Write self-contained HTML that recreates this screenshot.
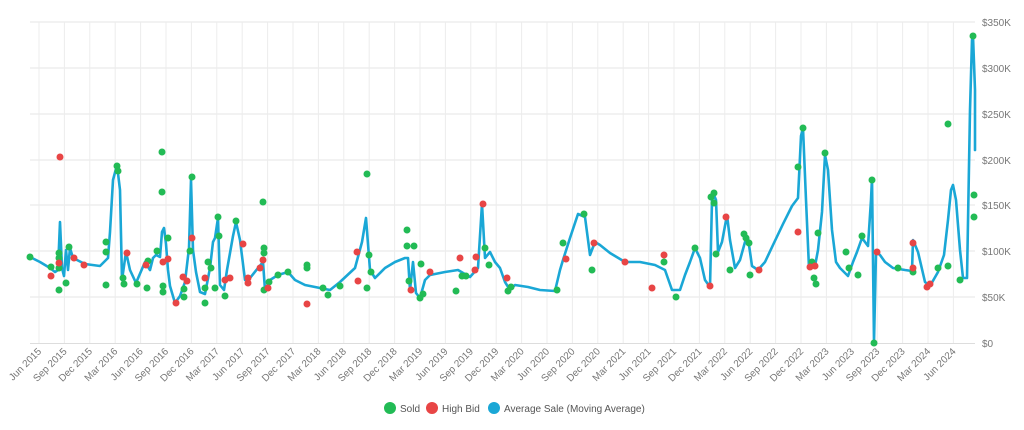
<!DOCTYPE html><html><head><style>body{margin:0;background:#fff;font-family:"Liberation Sans",sans-serif}</style></head><body>
<svg width="1024" height="425" xmlns="http://www.w3.org/2000/svg" font-family="Liberation Sans, sans-serif">
<g stroke="#e6e6e6" stroke-width="1">
<line x1="30" y1="22" x2="975" y2="22"/><line x1="30" y1="68" x2="975" y2="68"/><line x1="30" y1="114" x2="975" y2="114"/><line x1="30" y1="160" x2="975" y2="160"/><line x1="30" y1="205" x2="975" y2="205"/><line x1="30" y1="251" x2="975" y2="251"/><line x1="30" y1="297" x2="975" y2="297"/>
</g>
<g id="vg" stroke="#ececec"></g>
<line x1="30" y1="343.5" x2="975" y2="343.5" stroke="#ddd"/>
<g font-size="10" fill="#777" text-anchor="start">
<text x="982" y="26">$350K</text><text x="982" y="72">$300K</text><text x="982" y="118">$250K</text><text x="982" y="164">$200K</text><text x="982" y="209">$150K</text><text x="982" y="255">$100K</text><text x="982" y="301">$50K</text><text x="982" y="347">$0</text>
</g>
<g id="xl" font-size="10" fill="#777"></g>
<polyline fill="none" stroke="#1aa7d6" stroke-width="2.6" stroke-linejoin="round" stroke-linecap="round" points="30,257 40,262 50,268 55,272 58,270 60,222 62,268 64,276 66,250 68,270 70,248 73,258 85,264 100,266 108,258 110,232 113,180 117,165 120,190 122,280 126,252 130,270 136,283 145,262 150,270 153,258 156,255 160,257 162,232 164,228 166,244 168,270 170,286 175,303 180,296 185,282 189,248 191,180 193,250 196,272 200,292 205,294 210,268 213,242 215,238 218,218 220,285 224,290 227,270 233,236 236,222 240,240 245,280 250,278 258,268 263,262 265,290 270,280 278,275 288,272 295,280 305,285 320,288 330,290 340,282 355,268 362,242 366,218 370,270 375,278 385,268 395,262 405,258 408,258 410,290 413,262 416,293 420,298 425,280 430,275 445,272 458,270 470,277 478,268 482,204 485,258 490,252 495,262 500,268 505,282 510,290 515,285 528,287 540,290 555,291 560,270 563,260 570,238 578,214 585,217 590,255 595,242 600,245 610,253 625,262 640,262 655,265 665,270 672,290 680,290 685,275 690,262 695,248 700,258 705,280 710,287 712,200 714,195 716,200 718,252 722,242 727,215 730,240 735,268 740,260 745,242 748,238 752,266 758,270 765,262 773,245 783,224 792,206 798,198 801,136 803,128 806,200 809,268 815,266 818,250 822,212 825,155 828,170 832,230 836,262 840,268 848,276 853,262 857,252 862,238 868,246 871,200 872,178 874,342 876,252 880,255 885,262 893,268 905,270 912,271 913,240 918,252 925,282 930,286 938,272 944,255 948,220 951,190 953,185 956,200 960,250 963,278 967,278 970,110 972,40 973,36 975,90 975,150"/>
<g fill="#22bb55">
<circle cx="30" cy="257" r="3.5"/><circle cx="51" cy="267" r="3.5"/><circle cx="59" cy="290" r="3.5"/><circle cx="59" cy="253" r="3.5"/><circle cx="59" cy="258" r="3.5"/><circle cx="59" cy="268" r="3.5"/><circle cx="66" cy="283" r="3.5"/><circle cx="69" cy="247" r="3.5"/><circle cx="106" cy="242" r="3.5"/><circle cx="106" cy="252" r="3.5"/><circle cx="106" cy="285" r="3.5"/><circle cx="117" cy="166" r="3.5"/><circle cx="118" cy="171" r="3.5"/><circle cx="123" cy="278" r="3.5"/><circle cx="124" cy="284" r="3.5"/><circle cx="137" cy="284" r="3.5"/><circle cx="147" cy="288" r="3.5"/><circle cx="148" cy="261" r="3.5"/><circle cx="157" cy="251" r="3.5"/><circle cx="162" cy="152" r="3.5"/><circle cx="162" cy="192" r="3.5"/><circle cx="163" cy="286" r="3.5"/><circle cx="163" cy="292" r="3.5"/><circle cx="168" cy="238" r="3.5"/><circle cx="184" cy="289" r="3.5"/><circle cx="184" cy="297" r="3.5"/><circle cx="190" cy="251" r="3.5"/><circle cx="192" cy="177" r="3.5"/><circle cx="205" cy="303" r="3.5"/><circle cx="205" cy="288" r="3.5"/><circle cx="208" cy="262" r="3.5"/><circle cx="211" cy="268" r="3.5"/><circle cx="215" cy="288" r="3.5"/><circle cx="218" cy="217" r="3.5"/><circle cx="219" cy="236" r="3.5"/><circle cx="225" cy="296" r="3.5"/><circle cx="236" cy="221" r="3.5"/><circle cx="263" cy="202" r="3.5"/><circle cx="264" cy="248" r="3.5"/><circle cx="264" cy="253" r="3.5"/><circle cx="264" cy="290" r="3.5"/><circle cx="269" cy="282" r="3.5"/><circle cx="278" cy="275" r="3.5"/><circle cx="288" cy="272" r="3.5"/><circle cx="307" cy="265" r="3.5"/><circle cx="307" cy="268" r="3.5"/><circle cx="323" cy="288" r="3.5"/><circle cx="328" cy="295" r="3.5"/><circle cx="340" cy="286" r="3.5"/><circle cx="367" cy="174" r="3.5"/><circle cx="367" cy="288" r="3.5"/><circle cx="369" cy="255" r="3.5"/><circle cx="371" cy="272" r="3.5"/><circle cx="407" cy="230" r="3.5"/><circle cx="407" cy="246" r="3.5"/><circle cx="409" cy="281" r="3.5"/><circle cx="414" cy="246" r="3.5"/><circle cx="420" cy="298" r="3.5"/><circle cx="421" cy="264" r="3.5"/><circle cx="423" cy="294" r="3.5"/><circle cx="456" cy="291" r="3.5"/><circle cx="462" cy="276" r="3.5"/><circle cx="466" cy="276" r="3.5"/><circle cx="485" cy="248" r="3.5"/><circle cx="489" cy="265" r="3.5"/><circle cx="508" cy="291" r="3.5"/><circle cx="511" cy="287" r="3.5"/><circle cx="557" cy="290" r="3.5"/><circle cx="563" cy="243" r="3.5"/><circle cx="584" cy="214" r="3.5"/><circle cx="592" cy="270" r="3.5"/><circle cx="664" cy="262" r="3.5"/><circle cx="676" cy="297" r="3.5"/><circle cx="695" cy="248" r="3.5"/><circle cx="711" cy="197" r="3.5"/><circle cx="714" cy="193" r="3.5"/><circle cx="714" cy="203" r="3.5"/><circle cx="716" cy="254" r="3.5"/><circle cx="730" cy="270" r="3.5"/><circle cx="744" cy="234" r="3.5"/><circle cx="746" cy="238" r="3.5"/><circle cx="749" cy="243" r="3.5"/><circle cx="750" cy="275" r="3.5"/><circle cx="798" cy="167" r="3.5"/><circle cx="803" cy="128" r="3.5"/><circle cx="812" cy="262" r="3.5"/><circle cx="814" cy="278" r="3.5"/><circle cx="816" cy="284" r="3.5"/><circle cx="818" cy="233" r="3.5"/><circle cx="825" cy="153" r="3.5"/><circle cx="846" cy="252" r="3.5"/><circle cx="849" cy="268" r="3.5"/><circle cx="858" cy="275" r="3.5"/><circle cx="862" cy="236" r="3.5"/><circle cx="872" cy="180" r="3.5"/><circle cx="874" cy="343" r="3.5"/><circle cx="898" cy="268" r="3.5"/><circle cx="913" cy="272" r="3.5"/><circle cx="938" cy="268" r="3.5"/><circle cx="948" cy="124" r="3.5"/><circle cx="948" cy="266" r="3.5"/><circle cx="960" cy="280" r="3.5"/><circle cx="973" cy="36" r="3.5"/><circle cx="974" cy="195" r="3.5"/><circle cx="974" cy="217" r="3.5"/>
</g>
<g fill="#e84545">
<circle cx="60" cy="157" r="3.5"/><circle cx="51" cy="276" r="3.5"/><circle cx="59" cy="263" r="3.5"/><circle cx="74" cy="258" r="3.5"/><circle cx="84" cy="265" r="3.5"/><circle cx="127" cy="253" r="3.5"/><circle cx="146" cy="265" r="3.5"/><circle cx="163" cy="262" r="3.5"/><circle cx="168" cy="259" r="3.5"/><circle cx="176" cy="303" r="3.5"/><circle cx="183" cy="277" r="3.5"/><circle cx="187" cy="281" r="3.5"/><circle cx="192" cy="238" r="3.5"/><circle cx="205" cy="278" r="3.5"/><circle cx="225" cy="280" r="3.5"/><circle cx="230" cy="278" r="3.5"/><circle cx="243" cy="244" r="3.5"/><circle cx="248" cy="278" r="3.5"/><circle cx="248" cy="283" r="3.5"/><circle cx="260" cy="268" r="3.5"/><circle cx="263" cy="260" r="3.5"/><circle cx="268" cy="288" r="3.5"/><circle cx="307" cy="304" r="3.5"/><circle cx="357" cy="252" r="3.5"/><circle cx="358" cy="281" r="3.5"/><circle cx="411" cy="290" r="3.5"/><circle cx="430" cy="272" r="3.5"/><circle cx="460" cy="258" r="3.5"/><circle cx="475" cy="270" r="3.5"/><circle cx="476" cy="257" r="3.5"/><circle cx="483" cy="204" r="3.5"/><circle cx="507" cy="278" r="3.5"/><circle cx="566" cy="259" r="3.5"/><circle cx="594" cy="243" r="3.5"/><circle cx="625" cy="262" r="3.5"/><circle cx="652" cy="288" r="3.5"/><circle cx="664" cy="255" r="3.5"/><circle cx="710" cy="286" r="3.5"/><circle cx="726" cy="217" r="3.5"/><circle cx="759" cy="270" r="3.5"/><circle cx="798" cy="232" r="3.5"/><circle cx="810" cy="267" r="3.5"/><circle cx="815" cy="266" r="3.5"/><circle cx="877" cy="252" r="3.5"/><circle cx="913" cy="243" r="3.5"/><circle cx="913" cy="268" r="3.5"/><circle cx="927" cy="287" r="3.5"/><circle cx="930" cy="284" r="3.5"/>
</g>
<g font-size="10" fill="#555">
<circle cx="390" cy="408" r="6" fill="#22bb55"/><text x="400" y="412">Sold</text>
<circle cx="432" cy="408" r="6" fill="#e84545"/><text x="442" y="412">High Bid</text>
<circle cx="494" cy="408" r="6" fill="#1aa7d6"/><text x="504" y="412">Average Sale (Moving Average)</text>
</g>
<script>
var m=["Jun","Sep","Dec","Mar"],vg=document.getElementById("vg"),xl=document.getElementById("xl"),ns="http://www.w3.org/2000/svg";
for(var i=0;i<37;i++){var x=39+i*25.4,mi=i%4,y=2015+Math.floor((i+1)/4);
var l=document.createElementNS(ns,"line");l.setAttribute("x1",x);l.setAttribute("x2",x);l.setAttribute("y1",22);l.setAttribute("y2",343);vg.appendChild(l);
var t=document.createElementNS(ns,"text");t.setAttribute("text-anchor","end");t.setAttribute("transform","translate("+(x+3)+",352) rotate(-45)");t.textContent=m[mi]+" "+y;xl.appendChild(t);}
</script>
</svg>
</body></html>
